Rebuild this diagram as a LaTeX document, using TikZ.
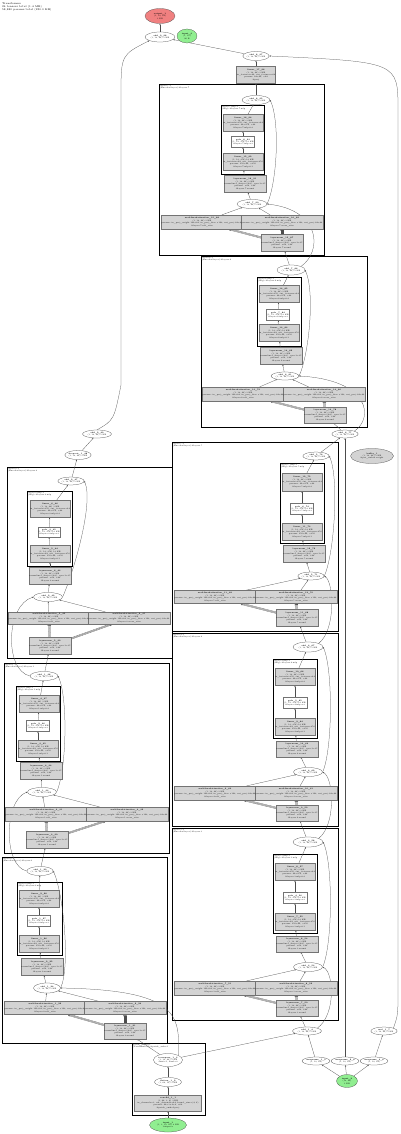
\documentclass[tikz,border=0pt]{standalone}
\usepackage{fontspec}
\usetikzlibrary{shapes.geometric,arrows.meta,backgrounds}
\definecolor{boxgray}{HTML}{D3D3D3}
\definecolor{outred}{HTML}{F08080}
\definecolor{ingreen}{HTML}{90EE90}
\newcommand\tfnt{\fontsize{1.9}{2.4}\selectfont}
\tikzset{
 ellnode/.style={ellipse, draw=black!70, line width=0.25pt, fill=white, inner sep=0pt, align=center, font=\tfnt},
 boxnode/.style={rectangle, draw=black!55, line width=0.25pt, fill=boxgray, inner sep=0.3pt, align=center, font=\tfnt},
 whitebox/.style={rectangle, draw=black!55, line width=0.25pt, fill=white, inner sep=0.3pt, align=center, font=\tfnt},
 clusterbox/.style={draw=black, line width=0.8pt},
 clabel/.style={anchor=north west, inner sep=0.4pt, align=left, font=\tfnt},
 conn/.style={draw=black!70, line width=0.25pt, -{Stealth[length=1.6pt,width=1.3pt]}},
}
\newcommand\mkell[6]{\node[ellnode,minimum width=#4pt,minimum height=#5pt] (#1) at (#2,#3) {#6};}
\newcommand\mkbox[6]{\node[boxnode,minimum width=#4pt,minimum height=#5pt] (#1) at (#2,#3) {#6};}
\newcommand\mkwbox[6]{\node[whitebox,minimum width=#4pt,minimum height=#5pt] (#1) at (#2,#3) {#6};}
\newcommand\mkclus[7]{\draw[clusterbox] (#2,#3) rectangle (#4,#5); \node[clabel] (#1) at (#2+0.6,#3+0.6) {#6\\#7};}
\newcommand\Tadd[1]{\textbf{add\_#1}\\(1, 12, 64) 3 KB}
\newcommand\Tfcb[2]{\textbf{linear\_#1}\\(1, 12, 64) 3 KB\\in\_features=256, out\_features=64\\params: 64×256, ×64\\@#2.mlp.fc2}
\newcommand\Tfca[2]{\textbf{linear\_#1}\\(1, 12, 256) 12 KB\\in\_features=64, out\_features=256\\params: 256×64, ×256\\@#2.mlp.fc1}
\newcommand\Tgelu[2]{\textbf{gelu\_#1}\\(1, 12, 256) 12 KB\\@#2.mlp.act}
\newcommand\Tln[3]{\textbf{layernorm\_#1}\\(1, 12, 64) 3 KB\\normalized\_shape=(64,), eps=1e-05\\params: ×64, ×64\\@#2.#3}
\newcommand\Tatt[3]{\textbf{multiheadattention\_#1}\\(1, 12, 64) 3 KB\\params: in\_proj\_weight 192×64, in\_proj\_bias ×192, out\_proj 64×64\\@#2.#3}
\newcommand\blockedges[3]{%
 \foreach \s in {-1.1,0,1.1}{\draw[conn,transform canvas={xshift=\s pt}] (#1ln1) -- (#1#2);}
 \foreach \s in {-0.8,0,0.8}{\draw[conn,transform canvas={yshift=\s pt}] (#1ln1) -- (#1#3);}
 \draw[conn] (#1att1) -- (#1h);
 \draw[conn] (#1att2) -- (#1h);
 \draw[conn] (#1h) -- (#1ln2);
 \draw[conn] (#1ln2) -- (#1lin1);
 \draw[conn] (#1lin1) -- (#1gelu);
 \draw[conn] (#1gelu) -- (#1lin2);
 \draw[conn] (#1lin2) -- (#1add);
 \draw[conn] (#1h.east) .. controls +(10,-22) and +(10,22) .. (#1add.east);
}
\begin{document}
\begin{tikzpicture}[x=1pt,y=-1pt]
\useasboundingbox (0,0) rectangle (400,1134);
\node[anchor=north west, align=left, inner sep=0pt, font=\fontsize{2.6}{3}\selectfont] (hdr) at (2,2) {Transformer\\24 tensors total (1.4 MB)\\58,880 params total (230.0 KB)};

% ---------- top ----------
\node[ellnode, fill=outred, minimum width=30pt, minimum height=15pt] (out1) at (160,16) {\textbf{output\_1}\\(1, 12, 64)\\3 KB};
\node[ellnode, fill=ingreen, minimum width=20pt, minimum height=14pt] (in3) at (187,36) {\textbf{input\_3}\\(1, 12)\\96 B};
\mkell{addT}{160}{37}{30}{10}{\Tadd{9\_98}}
\mkell{addA}{256}{56}{22}{9}{\Tadd{8\_97}}
\mkbox{boxB}{256}{75}{35}{17}{\textbf{linear\_17\_96}\\(1, 12, 64) 3 KB\\in\_features=64, out\_features=64\\params: 64×64, ×64\\@proj}

% ---------- C1 ----------
\mkell{c1add}{256}{100}{28}{9}{\Tadd{8\_95}}
\mkbox{c1lin2}{243}{123}{38}{17}{\Tfcb{16\_94}{layers.7}}
\mkwbox{c1gelu}{243}{142}{23}{11}{\Tgelu{8\_93}{layers.7}}
\mkbox{c1lin1}{243}{162}{38}{17}{\Tfca{15\_92}{layers.7}}
\mkbox{c1ln2}{245}{184}{36}{17}{\Tln{16\_91}{layers.7}{norm2}}
\mkell{c1h}{252}{204}{30}{9}{\Tadd{7\_90}}
\mkbox{c1att1}{202}{222}{78}{14}{\Tatt{15\_88}{layers.7}{self\_attn}}
\mkbox{c1att2}{282}{222}{78}{14}{\Tatt{16\_89}{layers.7}{cross\_attn}}
\mkbox{c1ln1}{282}{243}{37}{17}{\Tln{15\_87}{layers.7}{norm1}}

% ---------- C2 ----------
\mkell{c2add}{291}{270}{28}{10}{\Tadd{7\_86}}
\mkbox{c2lin2}{279}{294}{38}{17}{\Tfcb{14\_85}{layers.6}}
\mkwbox{c2gelu}{278}{315}{23}{11}{\Tgelu{7\_84}{layers.6}}
\mkbox{c2lin1}{279}{333}{38}{17}{\Tfca{13\_83}{layers.6}}
\mkbox{c2ln2}{281}{356}{37}{17}{\Tln{14\_82}{layers.6}{norm2}}
\mkell{c2h}{285}{376}{28}{8}{\Tadd{6\_81}}
\mkbox{c2att1}{243}{394}{78}{14}{\Tatt{13\_79}{layers.6}{self\_attn}}
\mkbox{c2att2}{324}{394}{78}{14}{\Tatt{14\_80}{layers.6}{cross\_attn}}
\mkbox{c2ln1}{325}{415}{36}{16}{\Tln{13\_78}{layers.6}{norm1}}

\mkell{addR}{345}{434}{26}{8}{\Tadd{6\_77}}
\node[ellnode, fill=boxgray, minimum width=43pt, minimum height=15pt] (buf) at (372,456) {\textbf{buffer\_1}\\(1, 12, 64) 3 KB\\@pos\_embed.weight};

% ---------- R1 ----------
\mkell{r1add}{316}{456}{22}{8}{\Tadd{5\_76}}
\mkbox{r1lin2}{302}{482}{37}{18}{\Tfcb{12\_75}{layers.5}}
\mkwbox{r1gelu}{302}{509}{23}{11}{\Tgelu{6\_74}{layers.5}}
\mkbox{r1lin1}{302}{532}{37}{17}{\Tfca{11\_73}{layers.5}}
\mkbox{r1ln2}{304}{554}{37}{17}{\Tln{12\_72}{layers.5}{norm2}}
\mkell{r1h}{311}{576}{26}{8}{\Tadd{5\_71}}
\mkbox{r1att1}{215}{597}{79}{13}{\Tatt{11\_69}{layers.5}{self\_attn}}
\mkbox{r1att2}{296}{597}{79}{13}{\Tatt{12\_70}{layers.5}{cross\_attn}}
\mkbox{r1ln1}{297}{618}{37}{17}{\Tln{11\_68}{layers.5}{norm1}}

% ---------- R2 ----------
\mkell{r2add}{308}{647}{30}{10}{\Tadd{4\_67}}
\mkbox{r2lin2}{295}{677}{37}{17}{\Tfcb{10\_66}{layers.4}}
\mkwbox{r2gelu}{295}{703}{24}{11}{\Tgelu{5\_65}{layers.4}}
\mkbox{r2lin1}{295}{727}{38}{17}{\Tfca{9\_64}{layers.4}}
\mkbox{r2ln2}{297}{749}{37}{16}{\Tln{10\_63}{layers.4}{norm2}}
\mkell{r2h}{308}{772}{29}{9}{\Tadd{4\_62}}
\mkbox{r2att1}{215}{793}{79}{14}{\Tatt{9\_60}{layers.4}{self\_attn}}
\mkbox{r2att2}{296}{793}{79}{14}{\Tatt{10\_61}{layers.4}{cross\_attn}}
\mkbox{r2ln1}{297}{813}{37}{16}{\Tln{9\_59}{layers.4}{norm1}}

% ---------- R3 ----------
\mkell{r3add}{308}{842}{30}{10}{\Tadd{3\_58}}
\mkbox{r3lin2}{295}{872}{37}{17}{\Tfcb{8\_57}{layers.3}}
\mkwbox{r3gelu}{295}{898}{24}{11}{\Tgelu{4\_56}{layers.3}}
\mkbox{r3lin1}{295}{922}{38}{17}{\Tfca{7\_55}{layers.3}}
\mkbox{r3ln2}{297}{944}{37}{16}{\Tln{8\_54}{layers.3}{norm2}}
\mkell{r3h}{308}{967}{29}{9}{\Tadd{3\_53}}
\mkbox{r3att1}{215}{988}{79}{14}{\Tatt{7\_51}{layers.3}{self\_attn}}
\mkbox{r3att2}{296}{988}{79}{14}{\Tatt{8\_52}{layers.3}{cross\_attn}}
\mkbox{r3ln1}{297}{1008}{37}{16}{\Tln{7\_50}{layers.3}{norm1}}

% ---------- left chain ----------
\mkell{lA}{97}{434}{29}{8}{\Tadd{2\_49}}
\mkell{lB}{78}{455}{23}{9}{\textbf{dropout\_1\_48}\\(1, 12, 64) 3 KB}

% ---------- L1 ----------
\mkell{l1add}{71}{481}{22}{8}{\Tadd{2\_47}}
\mkbox{l1lin2}{50}{509}{36}{17}{\Tfcb{6\_46}{layers.2}}
\mkwbox{l1gelu}{49}{532}{22}{10}{\Tgelu{3\_45}{layers.2}}
\mkbox{l1lin1}{50}{554}{36}{17}{\Tfca{5\_44}{layers.2}}
\mkbox{l1ln2}{50}{576}{36}{17}{\Tln{6\_43}{layers.2}{norm2}}
\mkell{l1h}{48}{597}{29}{9}{\Tadd{2\_42}}
\mkbox{l1att1}{49}{618}{78}{12}{\Tatt{5\_40}{layers.2}{self\_attn}}
\mkbox{l1att2}{129}{618}{78}{12}{\Tatt{6\_41}{layers.2}{cross\_attn}}
\mkbox{l1ln1}{50}{646}{36}{17}{\Tln{5\_39}{layers.2}{norm1}}

% ---------- L2 ----------
\mkell{l2add}{44}{676}{28}{9}{\Tadd{1\_38}}
\mkbox{l2lin2}{39}{704}{36}{17}{\Tfcb{4\_37}{layers.1}}
\mkwbox{l2gelu}{38}{726}{23}{11}{\Tgelu{2\_36}{layers.1}}
\mkbox{l2lin1}{38}{749}{38}{17}{\Tfca{3\_35}{layers.1}}
\mkbox{l2ln2}{41}{771}{36}{17}{\Tln{4\_34}{layers.1}{norm2}}
\mkell{l2h}{42}{792}{29}{9}{\Tadd{1\_33}}
\mkbox{l2att1}{46}{814}{79}{14}{\Tatt{3\_31}{layers.1}{self\_attn}}
\mkbox{l2att2}{127}{814}{79}{14}{\Tatt{4\_32}{layers.1}{cross\_attn}}
\mkbox{l2ln1}{47}{840}{37}{17}{\Tln{3\_30}{layers.1}{norm1}}

% ---------- L3 ----------
\mkell{l3add}{40}{871}{26}{9}{\Tadd{1\_29}}
\mkbox{l3lin2}{39}{899}{36}{17}{\Tfcb{2\_28}{layers.0}}
\mkwbox{l3gelu}{39}{921}{23}{11}{\Tgelu{1\_27}{layers.0}}
\mkbox{l3lin1}{39}{944}{36}{17}{\Tfca{1\_26}{layers.0}}
\mkbox{l3ln2}{42}{967}{37}{17}{\Tln{2\_25}{layers.0}{norm2}}
\mkell{l3h}{47}{988}{27}{10}{\Tadd{1\_24}}
\mkbox{l3att1}{45}{1008}{79}{13}{\Tatt{1\_22}{layers.0}{self\_attn}}
\mkbox{l3att2}{125}{1008}{79}{13}{\Tatt{2\_23}{layers.0}{cross\_attn}}
\mkbox{l3ln1}{125}{1031}{36}{16}{\Tln{1\_21}{layers.0}{norm1}}

% ---------- embeddings ----------
\mkell{tr}{168}{1060}{29}{13}{\textbf{transpose\_1\_3}\\(1, 12, 64) 3 KB\\dim0=1, dim1=2}
\mkell{fl}{168}{1082}{27}{9}{\textbf{flatten\_1\_2}\\(1, 64, 12) 3 KB}
\mkbox{conv}{168}{1103}{67}{16}{\textbf{conv2d\_1\_1}\\(1, 64, 3, 4) 3 KB\\in\_channels=3, out\_channels=64, kernel\_size=(4, 4)\\params: 64×3×4×4, ×64\\@patch\_embed.proj}
\node[ellnode, fill=ingreen, minimum width=37pt, minimum height=14pt] (in1) at (168,1125) {\textbf{input\_1}\\(1, 3, 12, 16) 2 KB\\@input.x};

% ---------- bottom right ----------
\mkell{addE}{307}{1031}{29}{8}{\Tadd{1\_4}}
\mkell{sc}{384}{1031}{22}{8}{\textbf{mul\_1\_7}\\(1, 12, 64) 3 KB}
\mkell{u1}{316}{1061}{23}{8}{\textbf{unsqueeze\_1\_5}\\(1, 12, 64)}
\mkell{u2}{345}{1061}{26}{8}{\textbf{unsqueeze\_2\_6}\\(1, 12, 64)}
\mkell{u3}{374}{1061}{25}{8}{\textbf{unsqueeze\_3\_6}\\(1, 12, 64)}
\node[ellnode, fill=ingreen, minimum width=21pt, minimum height=13pt] (in2) at (347,1081) {\textbf{input\_2}\\(12, 64)\\3 KB};

\begin{pgfonlayer}{background}
% clusters
\mkclus{k1}{159}{84}{324}{255}{layers.7:1}{(EncoderLayer) @layers.7}
\mkclus{k1i}{221}{105}{264}{174}{layers.7.mlp:1}{(Mlp) @layers.7.mlp}
\mkclus{k2}{201}{256}{367}{427}{layers.6:1}{(EncoderLayer) @layers.6}
\mkclus{k2i}{257}{277}{301}{346}{layers.6.mlp:1}{(Mlp) @layers.6.mlp}
\mkclus{kr1}{172}{442}{338}{631}{layers.5:1}{(EncoderLayer) @layers.5}
\mkclus{kr1i}{280}{463}{324}{543}{layers.5.mlp:1}{(Mlp) @layers.5.mlp}
\mkclus{kr2}{172}{633}{338}{826}{layers.4:1}{(EncoderLayer) @layers.4}
\mkclus{kr2i}{273}{659}{317}{738}{layers.4.mlp:1}{(Mlp) @layers.4.mlp}
\mkclus{kr3}{172}{828}{338}{1020}{layers.3:1}{(EncoderLayer) @layers.3}
\mkclus{kr3i}{273}{854}{317}{933}{layers.3.mlp:1}{(Mlp) @layers.3.mlp}
\mkclus{kl1}{7}{467}{172}{658}{layers.2:1}{(EncoderLayer) @layers.2}
\mkclus{kl1i}{27}{491}{72}{566}{layers.2.mlp:1}{(Mlp) @layers.2.mlp}
\mkclus{kl2}{4}{663}{169}{853}{layers.1:1}{(EncoderLayer) @layers.1}
\mkclus{kl2i}{16}{686}{60}{761}{layers.1.mlp:1}{(Mlp) @layers.1.mlp}
\mkclus{kl3}{2}{857}{167}{1043}{layers.0:1}{(EncoderLayer) @layers.0}
\mkclus{kl3i}{17}{882}{62}{955}{layers.0.mlp:1}{(Mlp) @layers.0.mlp}
\mkclus{ke}{132}{1043}{205}{1115}{patch\_embed:1}{(PatchEmbed) @patch\_embed}

% block internals
\blockedges{c1}{att2}{att1}
\blockedges{c2}{att2}{att1}
\blockedges{r1}{att2}{att1}
\blockedges{r2}{att2}{att1}
\blockedges{r3}{att2}{att1}
\blockedges{l1}{att1}{att2}
\blockedges{l2}{att1}{att2}
\blockedges{l3}{att2}{att1}

% block inputs
\draw[conn] (c2add) -- (c1ln1);
\draw[conn] (addR) -- (c2ln1);
\draw[conn] (r2add) -- (r1ln1);
\draw[conn] (r3add) -- (r2ln1);
\draw[conn] (addE) -- (r3ln1);
\draw[conn] (l2add) -- (l1ln1);
\draw[conn] (l3add) -- (l2ln1);
\draw[conn] (tr) -- (l3ln1);
\draw[conn] (c2add.north east) .. controls (322,252) and (322,210) .. (c1h.east);
\draw[conn] (addR.north east) .. controls (374,418) and (370,380) .. (c2h.east);
\draw[conn] (r2add.north east) .. controls (336,630) and (334,582) .. (r1h.east);
\draw[conn] (r3add.north east) .. controls (336,825) and (334,778) .. (r2h.east);
\draw[conn] (addE.north east) .. controls (336,1015) and (334,972) .. (r3h.east);
\draw[conn] (l2add.west) .. controls (4,670) and (6,605) .. (l1h.west);
\draw[conn] (l3add.west) .. controls (3,866) and (4,800) .. (l2h.west);
\draw[conn] (tr.north east) .. controls (180,1015) and (178,990) .. (l3h.east);

% chains
\draw[conn] (c1add) -- (boxB);
\draw[conn] (boxB) -- (addA);
\draw[conn] (addA) -- (addT);
\draw[conn] (addT) -- (out1);
\draw[conn] (r1add) -- (addR);
\draw[conn] (u2) -- (addR);
\draw[conn] (l1add) -- (lB);
\draw[conn] (lB) -- (lA);
\draw[conn] (lA.north) .. controls (114,420) .. (121,385) -- (121,95) .. controls (121,55) .. (addT.south west);
\draw[conn] (sc.north east) .. controls (398,1015) .. (398,990) -- (398,110) .. controls (398,62) .. (addA.east);
\draw[conn] (in1) -- (conv);
\draw[conn] (conv) -- (fl);
\draw[conn] (fl) -- (tr);
\draw[conn] (tr) -- (addE);
\draw[conn] (u1) -- (addE);
\draw[conn] (in2) -- (u1);
\draw[conn] (in2) -- (u2);
\draw[conn] (in2) -- (u3);
\draw[conn] (u3) -- (sc);
\end{pgfonlayer}
\end{tikzpicture}
\end{document}
